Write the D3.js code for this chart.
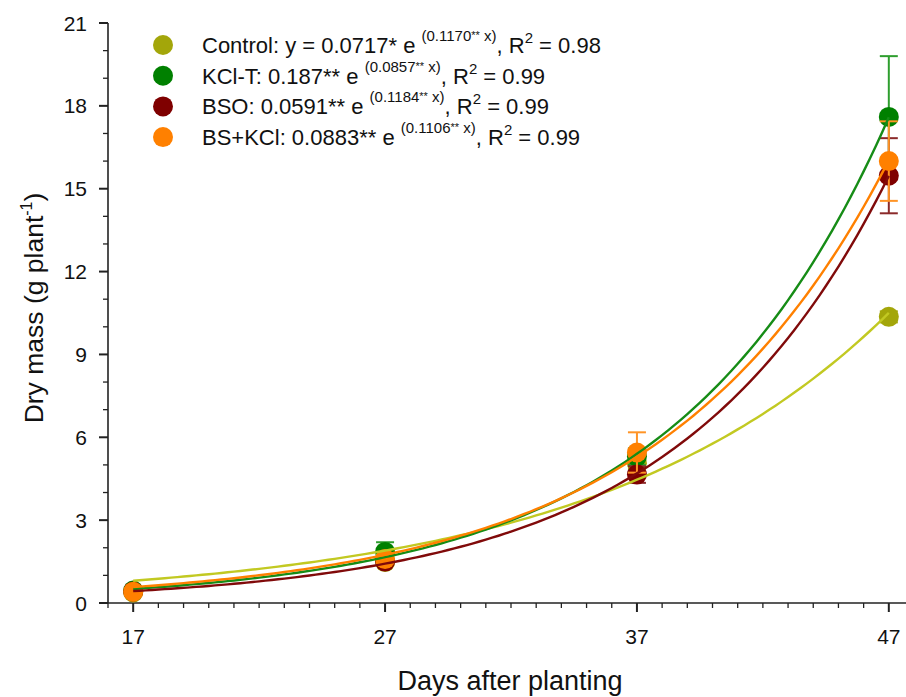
<!DOCTYPE html>
<html>
<head>
<meta charset="utf-8">
<script src="https://cdn.jsdelivr.net/npm/d3@7"></script>
<style>
  body { margin: 0; background: #fff; }
  svg { font-family: "Liberation Sans", Arial, sans-serif; }
</style>
</head>
<body>
<div id="chart"></div>
<script>
// Data
const days = [17, 27, 37, 47];
const seriesNames = ["Control", "KCl-T", "BSO", "BS+KCl"];
const controlMass = [0.38, 1.48, 5.05, 10.36];
const controlErr = [0.05, 0.1, 0.2, 0.2];
const kclMass = [0.45, 1.85, 5.3, 17.6];
const kclErr = [0.05, 0.35, 0.3, 2.2];
const bsoMass = [0.42, 1.5, 4.65, 15.47];
const bsoErr = [0.05, 0.1, 0.3, 1.36];
const bsKclMass = [0.41, 1.59, 5.45, 16.0];
const bsKclErr = [0.05, 0.15, 0.73, 1.44];

// legend equation pieces
const legendPrefix = ["Control: y = 0.0717* e ", "KCl-T: 0.187** e ", "BSO: 0.0591** e ", "BS+KCl: 0.0883** e "];
const expCoef = ["0.1170", "0.0857", "0.1184", "0.1106"];
const rSquared = ["0.98", "0.99", "0.99", "0.99"];

const yTickLabels = [0, 3, 6, 9, 12, 15, 18, 21];
const xTickLabels = [17, 27, 37, 47];

const markerColors = ["#a3a60a", "#008000", "#7f0000", "#ff8000"];
const lineColors = ["#c2c922", "#168c16", "#800a0a", "#ff8000"];
const errColors = ["#a3a60a", "#2e9e2e", "#8b2a2a", "#ff9426"];

const means = [controlMass, kclMass, bsoMass, bsKclMass];
const errs = [controlErr, kclErr, bsoErr, bsKclErr];

const width = 906, height = 697;
const x = d3.scaleLinear().domain([16, 48]).range([108, 914]);
const y = d3.scaleLinear().domain([0, 21]).range([603, 23]);

const svg = d3.select("#chart").append("svg")
  .attr("width", width)
  .attr("height", height);

// exponential fit y = c * exp(b * (x - 17)), least squares by Gauss-Newton
function fitExp(xs, ys) {
  const t = xs.map(v => v - xs[0]);
  // start from log-linear fit
  const ly = ys.map(Math.log);
  const mt = d3.mean(t), ml = d3.mean(ly);
  let b = d3.sum(t, (v, i) => (v - mt) * (ly[i] - ml)) / d3.sum(t, v => (v - mt) ** 2);
  let c = Math.exp(ml - b * mt);
  for (let it = 0; it < 100; it++) {
    let a11 = 0, a12 = 0, a22 = 0, g1 = 0, g2 = 0;
    t.forEach((tv, i) => {
      const e = Math.exp(b * tv);
      const r = ys[i] - c * e;
      const j1 = e, j2 = c * tv * e;
      a11 += j1 * j1; a12 += j1 * j2; a22 += j2 * j2;
      g1 += j1 * r; g2 += j2 * r;
    });
    const det = a11 * a22 - a12 * a12;
    if (!det) break;
    const dc = (a22 * g1 - a12 * g2) / det;
    const db = (a11 * g2 - a12 * g1) / det;
    c += dc; b += db;
    if (Math.abs(dc) < 1e-10 && Math.abs(db) < 1e-12) break;
  }
  return v => c * Math.exp(b * (v - xs[0]));
}

// axes
const axisColor = "#222";
const xAxis = svg.append("g");
xAxis.append("line")
  .attr("x1", x(16)).attr("x2", x(48))
  .attr("y1", y(0)).attr("y2", y(0))
  .attr("stroke", axisColor).attr("stroke-width", 1.6);
xAxis.selectAll(".xminor").data(d3.range(16, 49))
  .join("line")
  .attr("x1", d => x(d)).attr("x2", d => x(d))
  .attr("y1", y(0)).attr("y2", d => y(0) + (xTickLabels.includes(d) ? 9 : 5))
  .attr("stroke", axisColor).attr("stroke-width", d => xTickLabels.includes(d) ? 2 : 1.3);
xAxis.selectAll(".xlab").data(xTickLabels)
  .join("text")
  .attr("x", d => x(d)).attr("y", 644)
  .attr("text-anchor", "middle")
  .attr("font-size", 21)
  .attr("fill", "#111")
  .text(d => d);

const yAxis = svg.append("g");
yAxis.append("line")
  .attr("x1", x(16)).attr("x2", x(16))
  .attr("y1", y(0)).attr("y2", y(21))
  .attr("stroke", axisColor).attr("stroke-width", 1.6);
yAxis.selectAll(".yminor").data(d3.range(0, 22))
  .join("line")
  .attr("x1", x(16)).attr("x2", d => x(16) - (yTickLabels.includes(d) ? 9 : 5))
  .attr("y1", d => y(d)).attr("y2", d => y(d))
  .attr("stroke", axisColor).attr("stroke-width", d => yTickLabels.includes(d) ? 2 : 1.3);
yAxis.selectAll(".ylab").data(yTickLabels)
  .join("text")
  .attr("x", 87).attr("y", d => y(d) + 7.5)
  .attr("text-anchor", "end")
  .attr("font-size", 21)
  .attr("fill", "#111")
  .text(d => d);

// axis titles
svg.append("text")
  .attr("x", 510).attr("y", 690)
  .attr("text-anchor", "middle")
  .attr("font-size", 27)
  .attr("fill", "#111")
  .text("Days after planting");

const yTitle = svg.append("text")
  .attr("transform", "translate(43,308) rotate(-90)")
  .attr("text-anchor", "middle")
  .attr("font-size", 26.5)
  .attr("fill", "#111");
yTitle.append("tspan").text("Dry mass (g plant");
yTitle.append("tspan").attr("font-size", 16).attr("dy", -11).text("-1");
yTitle.append("tspan").attr("dy", 11).text(")");

// error bars and markers
const plot = svg.append("g");
means.forEach((vals, s) => {
  const g = plot.append("g");
  const pts = days.map((d, i) => ({ d, v: vals[i], e: errs[s][i] }));
  g.selectAll(".eb").data(pts).join("line")
    .attr("x1", p => x(p.d)).attr("x2", p => x(p.d))
    .attr("y1", p => y(p.v - p.e)).attr("y2", p => y(p.v + p.e))
    .attr("stroke", errColors[s]).attr("stroke-width", 2);
  [-1, 1].forEach(sign => {
    g.selectAll(".cap" + sign).data(pts).join("line")
      .attr("x1", p => x(p.d) - 9).attr("x2", p => x(p.d) + 9)
      .attr("y1", p => y(p.v + sign * p.e)).attr("y2", p => y(p.v + sign * p.e))
      .attr("stroke", errColors[s]).attr("stroke-width", 2);
  });
  g.selectAll("circle").data(pts).join("circle")
    .attr("cx", p => x(p.d)).attr("cy", p => y(p.v))
    .attr("r", 10)
    .attr("fill", markerColors[s]);
});

// fitted curves
const line = d3.line().x(d => x(d[0])).y(d => y(d[1])).curve(d3.curveLinear);
means.forEach((vals, s) => {
  const f = fitExp(days, vals);
  const xs = d3.range(17, 47.001, 0.25);
  plot.append("path")
    .attr("d", line(xs.map(v => [v, f(v)])))
    .attr("fill", "none")
    .attr("stroke", lineColors[s])
    .attr("stroke-width", 2.4);
});

// legend
const legend = svg.append("g");
seriesNames.forEach((name, i) => {
  const ly = 45 + i * 30.7;
  legend.append("circle")
    .attr("cx", 163).attr("cy", ly).attr("r", 10)
    .attr("fill", markerColors[i]);
  const t = legend.append("text")
    .attr("x", 202).attr("y", ly + 8)
    .attr("font-size", 22)
    .attr("fill", "#111");
  t.append("tspan").text(legendPrefix[i]);
  t.append("tspan").attr("font-size", 15).attr("dy", -12).text("(" + expCoef[i]);
  t.append("tspan").attr("font-size", 11).attr("dy", -2).text("**");
  t.append("tspan").attr("font-size", 15).attr("dy", 2).text(" x)");
  t.append("tspan").attr("dy", 12).text(", R");
  t.append("tspan").attr("font-size", 15).attr("dy", -10).text("2");
  t.append("tspan").attr("dy", 10).text(" = " + rSquared[i]);
});
</script>
</body>
</html>
